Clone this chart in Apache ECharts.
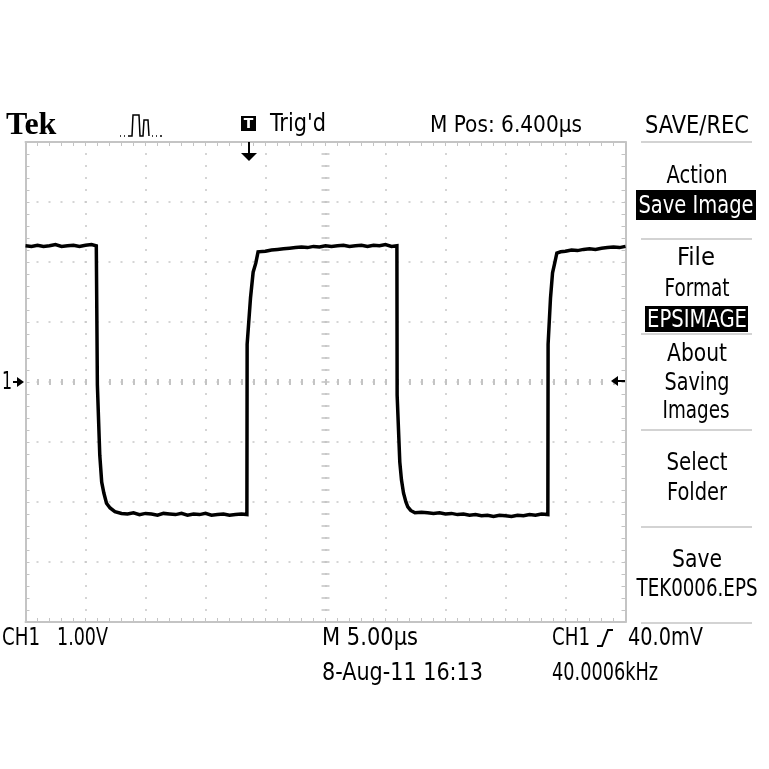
<!DOCTYPE html>
<html><head><meta charset="utf-8">
<script src="https://cdn.jsdelivr.net/npm/echarts@6/dist/echarts.min.js"></script>
<style>html,body{margin:0;padding:0;background:#fff}#c{width:769px;height:769px}</style>
</head><body><div id="c"></div>
<script>
// Time base: 5.00 µs/div, 10 div; vertical: 1.00 V/div, 8 div
const xMin = 0, xMax = 50, xStep = 5;
const yMin = -4, yMax = 4, yStep = 1;
const cMinX = -25, cMaxX = 25;

// CH1 trace, time in µs, amplitude in V
const traceTime = [
  0,0.5,1,1.5,2,2.5,3,3.5,4,4.5,5,5.5,5.9,5.97,
  5.99,6.19,6.35,6.53,6.75,7.05,7.45,8,8.5,9,9.5,10,10.5,11,11.5,12,12.5,13,13.5,14,14.5,15,15.5,16,16.5,17,17.5,18,18.45,
  18.47,18.75,18.97,19.19,19.38,20,20.5,21,21.5,22,22.5,23,23.5,24,24.5,25,25.5,26,26.5,27,27.5,28,28.5,29,29.5,30,30.5,30.95,
  30.97,31.19,31.33,31.5,31.7,31.86,32.1,32.45,33,33.5,34,34.5,35,35.5,36,36.5,37,37.5,38,38.5,39,39.5,40,40.5,41,41.5,42,42.5,43,43.53,
  43.55,43.75,43.92,44.1,44.28,44.6,45,45.5,46,46.5,47,47.5,48,48.5,49,49.5,50
];
const traceVolt = [
  2.27,2.26,2.28,2.26,2.27,2.29,2.26,2.27,2.28,2.26,2.28,2.29,2.27,2.27,
  -0.05,-1.22,-1.67,-1.85,-2.02,-2.10,-2.16,-2.19,-2.20,-2.18,-2.21,-2.19,-2.20,-2.22,-2.19,-2.20,-2.21,-2.19,-2.22,-2.20,-2.21,-2.19,-2.22,-2.21,-2.20,-2.22,-2.21,-2.20,-2.21,
  0.63,1.40,1.83,1.98,2.17,2.18,2.20,2.21,2.22,2.23,2.24,2.25,2.24,2.26,2.25,2.27,2.26,2.27,2.28,2.26,2.27,2.28,2.26,2.28,2.27,2.29,2.26,2.27,
  -0.22,-1.33,-1.63,-1.85,-2.00,-2.08,-2.14,-2.18,-2.17,-2.18,-2.19,-2.18,-2.20,-2.19,-2.21,-2.20,-2.22,-2.21,-2.23,-2.22,-2.24,-2.22,-2.23,-2.24,-2.22,-2.23,-2.21,-2.22,-2.20,-2.21,
  0.63,1.40,1.82,1.98,2.15,2.17,2.18,2.20,2.19,2.21,2.22,2.21,2.23,2.24,2.25,2.24,2.26
];

const menuItems = ['Action','File','Format','About','Saving','Images','Select','Folder','Save','TEK0006.EPS'];

const GRAY = '#c4c4c4';
const DOT = '#c8c8c8';
const F = "'DejaVu Sans Condensed','Liberation Sans Narrow','DejaVu Sans',sans-serif";
const G = {left: 25.5, top: 142, width: 600, height: 480};

const mctx = document.createElement('canvas').getContext('2d');
function fitScale(text, font, w) {
  mctx.font = font;
  const m = mctx.measureText(text).width;
  return m > 0 ? w / m : 1;
}

function borderAxis(extra) {
  return Object.assign({
    type: 'value', axisLabel: {show: false},
    axisLine: {show: true, onZero: false, lineStyle: {color: GRAY, width: 2}},
    axisTick: {show: true, inside: true, length: 4, lineStyle: {color: GRAY, width: 1}},
    minorTick: {show: true, splitNumber: 5, length: 4, lineStyle: {color: GRAY, width: 1}},
    splitLine: {show: false}
  }, extra);
}
function centerAxis(extra) {
  return Object.assign({
    type: 'value', axisLabel: {show: false},
    axisLine: {show: false, onZero: true},
    axisTick: {show: true, inside: true, length: 3, lineStyle: {color: GRAY, width: 2}},
    minorTick: {show: true, splitNumber: 5, length: 3, lineStyle: {color: GRAY, width: 2}},
    splitLine: {show: false}
  }, extra);
}
const dotted = {show: true, lineStyle: {color: DOT, width: 1.5, type: [2, 10], dashOffset: 1}};

// text with horizontal scale fitted to the width it occupies on the screen
function txt(text, x, y, size, width, align, fill, z) {
  const font = size + 'px ' + F;
  const sx = width ? fitScale(text, font, width) : 1;
  return {type: 'text', x: x, y: y, scaleX: sx, z: z || 100,
    style: {text: text, fill: fill || '#000', font: font, align: align || 'left', verticalAlign: 'middle'}};
}
function hline(x1, x2, y, color, w) {
  return {type: 'line', z: 100, shape: {x1: x1, y1: y, x2: x2, y2: y}, style: {stroke: color, lineWidth: w}};
}
const MX = 697;
const graphic = [
  {type: 'text', x: 6, y: 126, z: 100, style: {text: 'Tek', fill: '#000', font: "bold 32px 'Liberation Serif','DejaVu Serif',serif", verticalAlign: 'middle'}},
  {type: 'polyline', z: 100, shape: {points: [[120,136],[121,136]]}, style: {stroke: '#000', lineWidth: 1.5}},
  {type: 'polyline', z: 100, shape: {points: [[124,136],[125,136]]}, style: {stroke: '#000', lineWidth: 1.5}},
  {type: 'polyline', z: 100, shape: {points: [[128,136],[132,136],[133,115],[139,115],[140,136],[143,136],[144,120],[148,120],[149,136]]}, style: {stroke: '#000', lineWidth: 1.5, fill: null}},
  {type: 'polyline', z: 100, shape: {points: [[152,136],[153,136]]}, style: {stroke: '#000', lineWidth: 1.5}},
  {type: 'polyline', z: 100, shape: {points: [[156,136],[157,136]]}, style: {stroke: '#000', lineWidth: 1.5}},
  {type: 'polyline', z: 100, shape: {points: [[160,136],[162,136]]}, style: {stroke: '#000', lineWidth: 1.5}},
  {type: 'rect', z: 100, shape: {x: 241, y: 116, width: 15, height: 15}, style: {fill: '#000'}},
  {type: 'text', x: 248.5, y: 124, z: 101, style: {text: 'T', fill: '#fff', font: "bold 14px 'DejaVu Sans',sans-serif", align: 'center', verticalAlign: 'middle'}},
  txt("Trig'd", 270, 125, 24, 56),
  txt('M Pos: 6.400µs', 430, 126, 23, 152),
  txt('SAVE/REC', MX, 127, 24, 104, 'center'),
  hline(641, 752, 142, GRAY, 1.5),
  // trigger position marker
  {type: 'line', z: 100, shape: {x1: 249, y1: 142, x2: 249, y2: 154}, style: {stroke: '#000', lineWidth: 2}},
  {type: 'polygon', z: 100, shape: {points: [[241,153],[257,153],[249,161]]}, style: {fill: '#000'}},
  // channel ground marker
  txt('1', 2, 382, 25, 10),
  {type: 'line', z: 100, shape: {x1: 13, y1: 382, x2: 18, y2: 382}, style: {stroke: '#000', lineWidth: 2}},
  {type: 'polygon', z: 100, shape: {points: [[17,377],[24,382],[17,387]]}, style: {fill: '#000'}},
  // trigger level marker
  {type: 'line', z: 100, shape: {x1: 617, y1: 381, x2: 625, y2: 381}, style: {stroke: '#000', lineWidth: 2}},
  {type: 'polygon', z: 100, shape: {points: [[611,381],[618,376],[618,386]]}, style: {fill: '#000'}},
  // menu
  txt(menuItems[0], MX, 176, 25, 61, 'center'),
  {type: 'rect', z: 100, shape: {x: 636, y: 190, width: 120, height: 30}, style: {fill: '#000'}},
  txt('Save Image', 696, 206, 25, 115, 'center', '#fff', 101),
  hline(641, 752, 239, GRAY, 1.5),
  txt(menuItems[1], 696, 258, 25, 38, 'center'),
  txt(menuItems[2], MX, 289, 25, 65, 'center'),
  {type: 'rect', z: 100, shape: {x: 645, y: 306, width: 103, height: 26}, style: {fill: '#000'}},
  txt('EPSIMAGE', MX, 320, 25, 100, 'center', '#fff', 101),
  hline(641, 752, 334, GRAY, 1.5),
  txt(menuItems[3], MX, 354, 25, 60, 'center'),
  txt(menuItems[4], MX, 383, 25, 65, 'center'),
  txt(menuItems[5], 696, 411, 25, 67, 'center'),
  hline(641, 752, 430, GRAY, 1.5),
  txt(menuItems[6], MX, 463, 25, 61, 'center'),
  txt(menuItems[7], MX, 493, 25, 60, 'center'),
  hline(641, 752, 527, GRAY, 1.5),
  txt(menuItems[8], MX, 560, 25, 50, 'center'),
  txt(menuItems[9], MX, 589, 25, 121, 'center'),
  hline(641, 752, 623, GRAY, 1.5),
  // bottom readouts
  txt('CH1', 2, 638, 25, 38),
  txt('1.00V', 57, 638, 25, 51),
  txt('M 5.00µs', 322, 638, 25, 96),
  txt('8-Aug-11 16:13', 322, 673, 25, 161),
  txt('CH1', 552, 638, 25, 38),
  {type: 'polyline', z: 100, shape: {points: [[597,646],[602,646],[608,630],[613,630]]}, style: {stroke: '#000', lineWidth: 2, fill: null}},
  txt('40.0mV', 628, 638, 25, 75),
  txt('40.0006kHz', 552, 673, 25, 106)
];

const chart = echarts.init(document.getElementById('c'), null, {renderer: 'canvas'});
chart.setOption({
  animation: false,
  backgroundColor: '#fff',
  grid: [Object.assign({}, G), Object.assign({}, G)],
  xAxis: [
    borderAxis({gridIndex: 0, position: 'bottom', min: xMin, max: xMax, interval: xStep, splitLine: dotted}),
    borderAxis({gridIndex: 0, position: 'top', min: xMin, max: xMax, interval: xStep}),
    centerAxis({gridIndex: 1, position: 'bottom', min: cMinX, max: cMaxX, interval: xStep}),
    centerAxis({gridIndex: 1, position: 'top', min: cMinX, max: cMaxX, interval: xStep})
  ],
  yAxis: [
    borderAxis({gridIndex: 0, position: 'left', min: yMin, max: yMax, interval: yStep, splitLine: dotted}),
    borderAxis({gridIndex: 0, position: 'right', min: yMin, max: yMax, interval: yStep}),
    centerAxis({gridIndex: 1, position: 'left', min: yMin, max: yMax, interval: yStep, axisTick: {show: true, inside: true, length: 4, lineStyle: {color: GRAY, width: 1.5}}, minorTick: {show: true, splitNumber: 5, length: 4, lineStyle: {color: GRAY, width: 1.5}}}),
    centerAxis({gridIndex: 1, position: 'right', min: yMin, max: yMax, interval: yStep, axisTick: {show: true, inside: true, length: 4, lineStyle: {color: GRAY, width: 1.5}}, minorTick: {show: true, splitNumber: 5, length: 4, lineStyle: {color: GRAY, width: 1.5}}})
  ],
  series: [{
    type: 'line', xAxisIndex: 0, yAxisIndex: 0, showSymbol: false, z: 10,
    lineStyle: {color: '#000', width: 3.5, join: 'miter'},
    data: traceTime.map((t, i) => [t, traceVolt[i]])
  }],
  graphic: graphic
});
</script></body></html>
